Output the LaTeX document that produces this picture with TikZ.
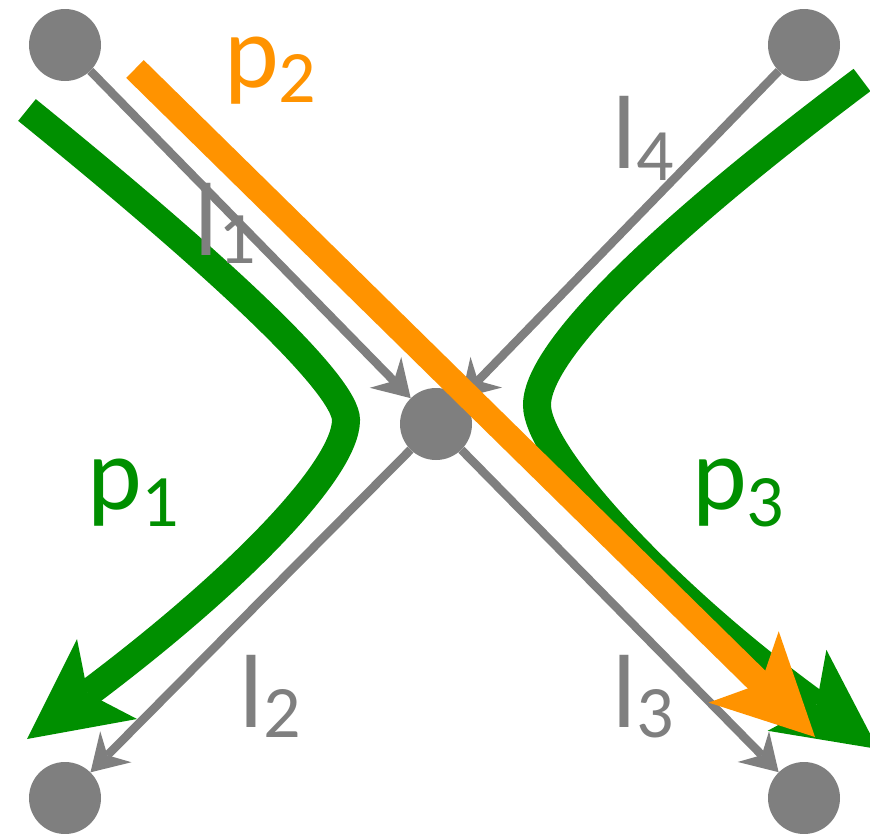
\documentclass[tikz,border=0pt]{standalone}
\usepackage{fontspec}
\setmainfont{Carlito}
\usetikzlibrary{arrows.meta}
\definecolor{gr}{HTML}{7F7F7F}
\definecolor{grn}{HTML}{008F00}
\definecolor{org}{HTML}{FF9300}
\newcommand{\subd}[2]{\raisebox{#1}{\fontsize{74}{74}\selectfont #2}}
\begin{document}
\begin{tikzpicture}[x=1pt,y=-1pt,
  dot/.style={circle,fill=gr,minimum size=72pt,inner sep=0pt},
  gedge/.style={draw=gr,line width=8.5pt,-{Stealth[length=36pt,width=44pt,inset=12pt,line width=0pt]}},
  gpath/.style={draw=grn,line width=28pt,-{Stealth[length=100pt,width=100pt,inset=24pt,line width=0pt]}},
  opath/.style={draw=org,line width=25pt,-{Stealth[length=100pt,width=100pt,inset=24pt,line width=0pt]}},
  lab/.style={anchor=base west,inner sep=0pt,font=\fontsize{104}{110}\selectfont}]
\useasboundingbox (0,0) rectangle (870,833);
\clip (0,0) rectangle (870,833);
% nodes
\node[dot] (tl) at (65,45) {};
\node[dot] (tr) at (804,45) {};
\node[dot] (c) at (436,424) {};
\node[dot] (bl) at (65,798) {};
\node[dot] (br) at (804,798) {};
% gray links
\draw[gedge] (tl) -- (c);
\draw[gedge] (tr) -- (c);
\draw[gedge] (c) -- (bl);
\draw[gedge] (c) -- (br);
% green paths
\coordinate (p1s) at (27,110);
\coordinate (p1v) at (346,420);
\coordinate (p1e) at (27,739);
\draw[gpath] (p1s) .. controls (222,268) and (346,385) .. (p1v)
  .. controls (346,470) and (235,583) .. (p1e);
\coordinate (p3s) at (862,80);
\coordinate (p3v) at (537,405);
\coordinate (p3e) at (878,749);
\draw[gpath] (p3s) .. controls (686,212) and (537,345) .. (p3v)
  .. controls (537,455) and (667,596) .. (p3e);
% orange path
\coordinate (os) at (135,69);
\coordinate (oe) at (815,737);
\draw[opath] (os) -- (oe);
% labels
\node[lab,text=org] (p2) at (224,87) {p\subd{-15pt}{2}};
\node[lab,text=gr] (l1) at (194,255) {l\subd{-8pt}{1}};
\node[lab,text=gr] (l4) at (612,168) {l\subd{-12pt}{4}};
\node[lab,text=grn] (p1) at (87,509) {p\subd{-17pt}{1}};
\node[lab,text=grn] (p3) at (692,509) {p\subd{-17pt}{3}};
\node[lab,text=gr] (l2) at (239,727) {l\subd{-10pt}{2}};
\node[lab,text=gr] (l3) at (612,727) {l\subd{-10pt}{3}};
\end{tikzpicture}
\end{document}
